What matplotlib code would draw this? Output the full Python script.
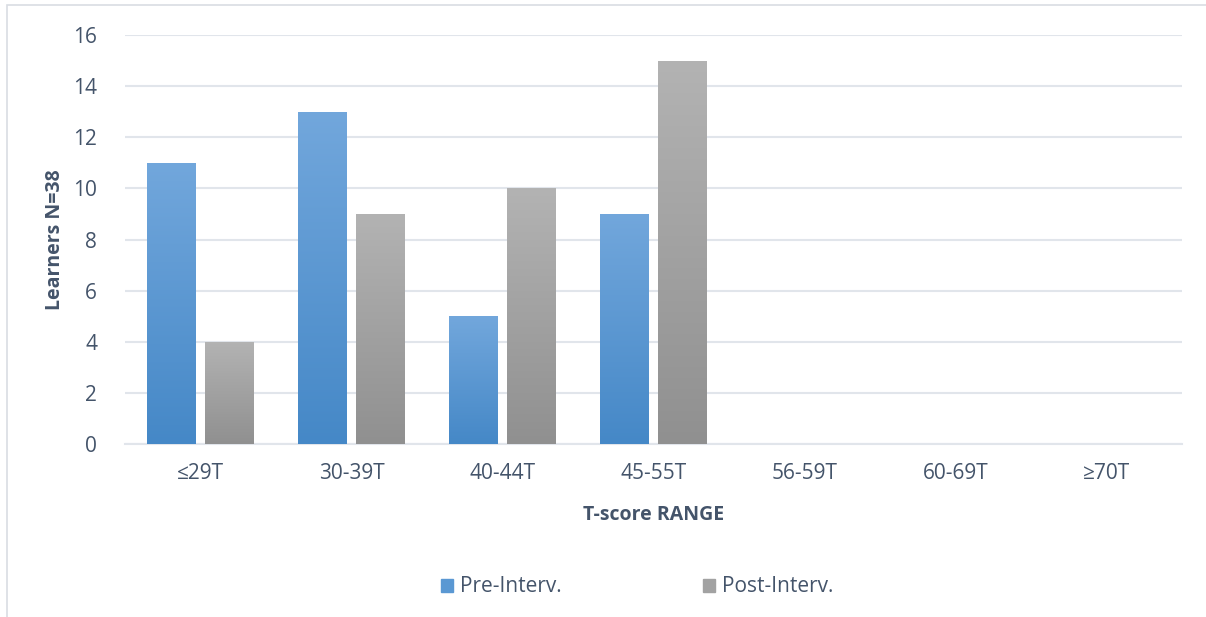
import numpy as np
import matplotlib.pyplot as plt
from matplotlib.colors import LinearSegmentedColormap
from matplotlib.patches import Rectangle

categories = ['≤29T', '30-39T', '40-44T', '45-55T', '56-59T', '60-69T', '≥70T']
pre_interv = [11, 13, 5, 9, 0, 0, 0]
post_interv = [4, 9, 10, 15, 0, 0, 0]

text_col = '#44546A'
grid_col = '#E1E5EB'

plt.rcParams['font.family'] = ['Open Sans', 'DejaVu Sans']

fig = plt.figure(figsize=(12.06, 6.17), dpi=100)
ax = fig.add_axes([125 / 1206, 1 - 444 / 617, 1057 / 1206, 409 / 617])

# light frame around the chart area
fig.patches.append(Rectangle((7 / 1206, -0.01), 1.2, 1 - 5 / 617 + 0.01,
                             transform=fig.transFigure, fill=False,
                             edgecolor='#D9DDE3', linewidth=1.2))

x = np.arange(len(categories))
w = 0.318
off = 0.192

blue_cmap = LinearSegmentedColormap.from_list('blue', ['#4588C7', '#72A7DC'])
gray_cmap = LinearSegmentedColormap.from_list('gray', ['#909090', '#B3B3B3'])


def gradient_bars(xs, vals, cmap, label):
    bars = ax.bar(xs, vals, w, color=cmap(0.5), label=label, zorder=2)
    for b in bars:
        h = b.get_height()
        if h <= 0:
            continue
        grad = np.linspace(0, 1, 256).reshape(-1, 1)
        im = ax.imshow(grad, cmap=cmap, aspect='auto', origin='lower',
                       extent=[b.get_x(), b.get_x() + b.get_width(), 0, h],
                       zorder=3)
        im.set_clip_path(b)
    return bars


gradient_bars(x - off, pre_interv, blue_cmap, 'Pre-Interv.')
gradient_bars(x + off, post_interv, gray_cmap, 'Post-Interv.')

ax.set_xlim(-0.5, len(categories) - 0.5)
ax.set_ylim(0, 16)
ax.set_yticks(range(0, 17, 2))
ax.set_xticks(x)
ax.set_xticklabels(categories)
ax.yaxis.grid(True, color=grid_col, linewidth=1.5, zorder=0)
ax.set_axisbelow(True)
for s in ['top', 'right', 'left']:
    ax.spines[s].set_visible(False)
ax.spines['bottom'].set_color(grid_col)
ax.spines['bottom'].set_linewidth(1.5)
ax.tick_params(length=0, labelsize=15, colors=text_col, pad=14)
ax.tick_params(axis='y', pad=20)

ax.set_ylabel('Learners N=38', fontsize=14, fontweight='bold', color=text_col, labelpad=6)
ax.set_xlabel('T-score RANGE', fontsize=14, fontweight='bold', color=text_col, labelpad=15)

# legend handles use the mid colour of each gradient
h1 = Rectangle((0, 0), 1, 1, color='#5A98D3')
h2 = Rectangle((0, 0), 1, 1, color='#A2A2A2')
fig.legend([h1, h2], ['Pre-Interv.', 'Post-Interv.'], loc='center',
           bbox_to_anchor=(637 / 1206, 1 - 587 / 617), ncol=2, frameon=False,
           fontsize=15, labelcolor=text_col, handlelength=0.6, handleheight=0.6,
           handletextpad=0.3, columnspacing=6.8)

fig.savefig('out.png', dpi=100)
